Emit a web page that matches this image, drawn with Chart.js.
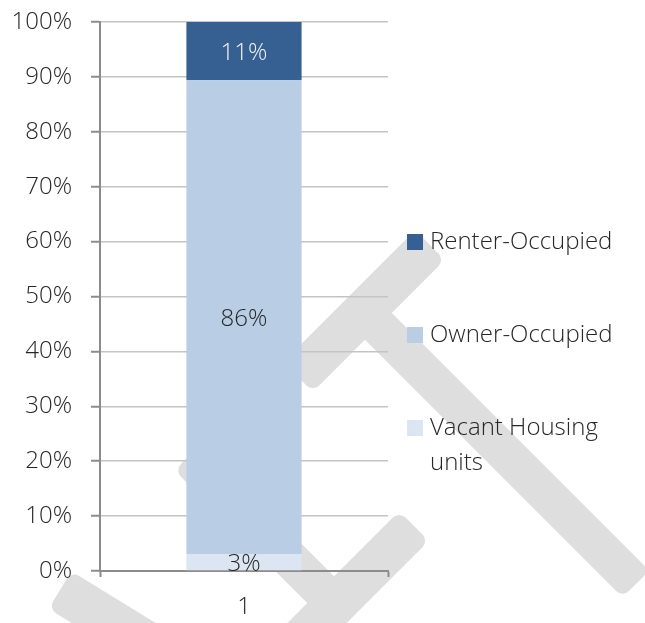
<!DOCTYPE html>
<html>
<head>
<meta charset="utf-8">
<script src="https://cdn.jsdelivr.net/npm/chart.js@4/dist/chart.umd.min.js"></script>
<style>
	html, body { margin: 0; padding: 0; background: #fff; }
	#wrap { width: 645px; height: 623px; }
</style>
</head>
<body>
<div id="wrap"><canvas id="barChart"></canvas></div>
<script>
// data
const categories = ['1'];
const seriesNames = ['Vacant Housing units', 'Owner-Occupied', 'Renter-Occupied'];
const vacantValues = [3.1];
const ownerValues = [86.3];
const renterValues = [10.6];
const seriesColors = ['#dce6f2', '#b9cde5', '#376092'];
const labelColors = ['#262626', '#262626', '#f2f2f2'];
const yTickValues = [0, 10, 20, 30, 40, 50, 60, 70, 80, 90, 100];

const fontFamily = '"Open Sans", "Noto Sans", sans-serif';
const fontSize = 24;
const fontWeight = 300;

// grey watermark behind the plot
function band(ctx, x1, y1, x2, y2, w) {
	const len = Math.hypot(x2 - x1, y2 - y1);
	ctx.save();
	ctx.translate(x1, y1);
	ctx.rotate(Math.atan2(y2 - y1, x2 - x1));
	ctx.beginPath();
	ctx.roundRect(0, -w / 2, len, w, 9);
	ctx.fill();
	ctx.restore();
}

const watermark = {
	id: 'watermark',
	beforeDraw(chart) {
		const ctx = chart.ctx;
		ctx.fillStyle = '#dedede';
		band(ctx, 298, 377, 430, 245, 42);
		band(ctx, 372, 320, 636, 584, 38);
		band(ctx, 188, 457, 345, 614, 38);
		band(ctx, 414, 526, 280, 660, 42);
		band(ctx, 60, 590, 200, 676, 44);
	}
};

// value labels in the middle of each segment
const segmentLabels = {
	id: 'segmentLabels',
	afterDatasetsDraw(chart) {
		const ctx = chart.ctx;
		ctx.save();
		ctx.font = fontWeight + ' ' + fontSize + 'px ' + fontFamily;
		ctx.textAlign = 'center';
		ctx.textBaseline = 'middle';
		chart.data.datasets.forEach((ds, i) => {
			chart.getDatasetMeta(i).data.forEach((bar, j) => {
				const p = bar.getProps(['x', 'y', 'base'], true);
				ctx.fillStyle = labelColors[i];
				ctx.fillText(Math.round(ds.data[j]) + '%', p.x, (p.y + p.base) / 2 + 2);
			});
		});
		ctx.restore();
	}
};

// legend on the right, top entry = last series, wraps long names
const sideLegend = {
	id: 'sideLegend',
	afterDraw(chart) {
		const ctx = chart.ctx;
		ctx.save();
		ctx.font = fontWeight + ' ' + fontSize + 'px ' + fontFamily;
		ctx.textBaseline = 'middle';
		const maxW = 200;
		let y = 242;
		for (let i = seriesNames.length - 1; i >= 0; i--) {
			ctx.fillStyle = seriesColors[i];
			ctx.fillRect(407, y - 8, 16, 16);
			ctx.fillStyle = '#262626';
			const words = seriesNames[i].split(' ');
			let line = '';
			let ly = y;
			words.forEach(w => {
				const test = line ? line + ' ' + w : w;
				if (ctx.measureText(test).width > maxW && line) {
					ctx.fillText(line, 430, ly);
					line = w;
					ly += 35;
				} else {
					line = test;
				}
			});
			ctx.fillText(line, 430, ly);
			y += 93;
		}
		ctx.restore();
	}
};

new Chart(document.getElementById('barChart'), {
	type: 'bar',
	data: {
		labels: categories,
		datasets: [
			{ label: seriesNames[0], data: vacantValues, backgroundColor: seriesColors[0] },
			{ label: seriesNames[1], data: ownerValues, backgroundColor: seriesColors[1] },
			{ label: seriesNames[2], data: renterValues, backgroundColor: seriesColors[2] }
		]
	},
	options: {
		responsive: true,
		maintainAspectRatio: false,
		animation: false,
		barPercentage: 0.4,
		categoryPercentage: 1,
		layout: { padding: { top: 22, right: 257, left: 0, bottom: 0 } },
		plugins: {
			legend: { display: false },
			tooltip: { enabled: false }
		},
		scales: {
			x: {
				stacked: true,
				afterFit(scale) {
					scale.height = 52;
					scale.paddingLeft = 0;
					scale.paddingRight = 0;
				},
				grid: {
					offset: true,
					drawOnChartArea: false,
					tickLength: 6,
					tickColor: '#8c8c8c',
					tickWidth: 2
				},
				border: { color: '#8c8c8c', width: 2 },
				ticks: {
					padding: 16,
					color: '#262626',
					font: { family: fontFamily, size: fontSize, weight: fontWeight }
				}
			},
			y: {
				stacked: true,
				min: 0,
				max: 100,
				afterFit(scale) {
					scale.width = 100;
					scale.paddingTop = 0;
					scale.paddingBottom = 0;
				},
				afterBuildTicks(scale) {
					scale.ticks = yTickValues.map(v => ({ value: v }));
				},
				grid: {
					color: '#c4c4c4',
					lineWidth: 1.5,
					tickLength: 9,
					tickColor: '#8c8c8c',
					tickWidth: 2
				},
				border: { color: '#8c8c8c', width: 2 },
				ticks: {
					padding: 19,
					color: '#262626',
					font: { family: fontFamily, size: fontSize, weight: fontWeight },
					callback: v => v + '%'
				}
			}
		}
	},
	plugins: [watermark, segmentLabels, sideLegend]
});
</script>
</body>
</html>
